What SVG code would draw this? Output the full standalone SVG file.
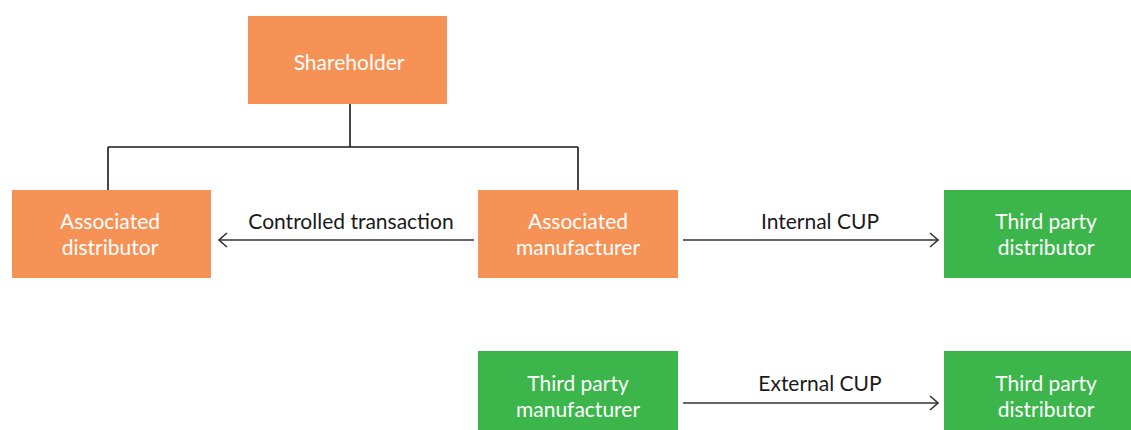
<svg xmlns="http://www.w3.org/2000/svg" width="1131" height="430" viewBox="0 0 1131 430">
  <style>
    .assoc { fill: #F79256; }
    .third { fill: #3CB64B; }
    .box-text { font-family: Lato, "Liberation Sans", Arial, sans-serif; font-size: 21px; fill: #FFFFFF; text-anchor: middle; }
    .edge-label { font-family: Lato, "Liberation Sans", Arial, sans-serif; font-size: 21px; fill: #1A1A1A; text-anchor: middle; }
    .link { stroke: #1A1A1A; stroke-width: 1.6; fill: none; }
    .flow { stroke: #333333; stroke-width: 1.6; fill: none; marker-end: url(#chevron); }
  </style>
  <defs>
    <marker id="chevron" viewBox="0 0 10 16" refX="9" refY="8" markerWidth="10" markerHeight="16" markerUnits="userSpaceOnUse" orient="auto">
      <path d="M1,1 L9,8 L1,15" fill="none" stroke="#333333" stroke-width="1.6"/>
    </marker>
  </defs>

  <rect width="1131" height="430" fill="#FFFFFF"/>

  <!-- connectors -->
  <g id="connectors">
    <path class="link" d="M350,104 V147 M108,147 H578 M108,147 V190 M578,147 V190"/>
    <path id="controlled" class="flow" d="M474,240 H219"/>
    <path id="internal" class="flow" d="M683,240 H938"/>
    <path id="external" class="flow" d="M683,403 H938"/>
    <text class="edge-label" x="351" y="229">Controlled transaction</text>
    <text class="edge-label" x="820" y="229">Internal CUP</text>
    <text class="edge-label" x="820" y="391">External CUP</text>
  </g>

  <!-- nodes -->
  <g id="shareholder">
    <rect class="assoc" x="248" y="16" width="199" height="88"/>
    <text class="box-text" x="349" y="70">Shareholder</text>
  </g>
  <g id="associated-distributor">
    <rect class="assoc" x="12" y="190" width="199" height="88"/>
    <text class="box-text" x="110" y="229">Associated</text>
    <text class="box-text" x="110" y="255">distributor</text>
  </g>
  <g id="associated-manufacturer">
    <rect class="assoc" x="478" y="190" width="200" height="88"/>
    <text class="box-text" x="578" y="229">Associated</text>
    <text class="box-text" x="578" y="255">manufacturer</text>
  </g>
  <g id="third-party-distributor-1">
    <rect class="third" x="944" y="190" width="200" height="88"/>
    <text class="box-text" x="1046" y="229">Third party</text>
    <text class="box-text" x="1046" y="255">distributor</text>
  </g>
  <g id="third-party-manufacturer">
    <rect class="third" x="478" y="351" width="200" height="88"/>
    <text class="box-text" x="578" y="391">Third party</text>
    <text class="box-text" x="578" y="417">manufacturer</text>
  </g>
  <g id="third-party-distributor-2">
    <rect class="third" x="944" y="351" width="200" height="88"/>
    <text class="box-text" x="1046" y="391">Third party</text>
    <text class="box-text" x="1046" y="417">distributor</text>
  </g>
</svg>
